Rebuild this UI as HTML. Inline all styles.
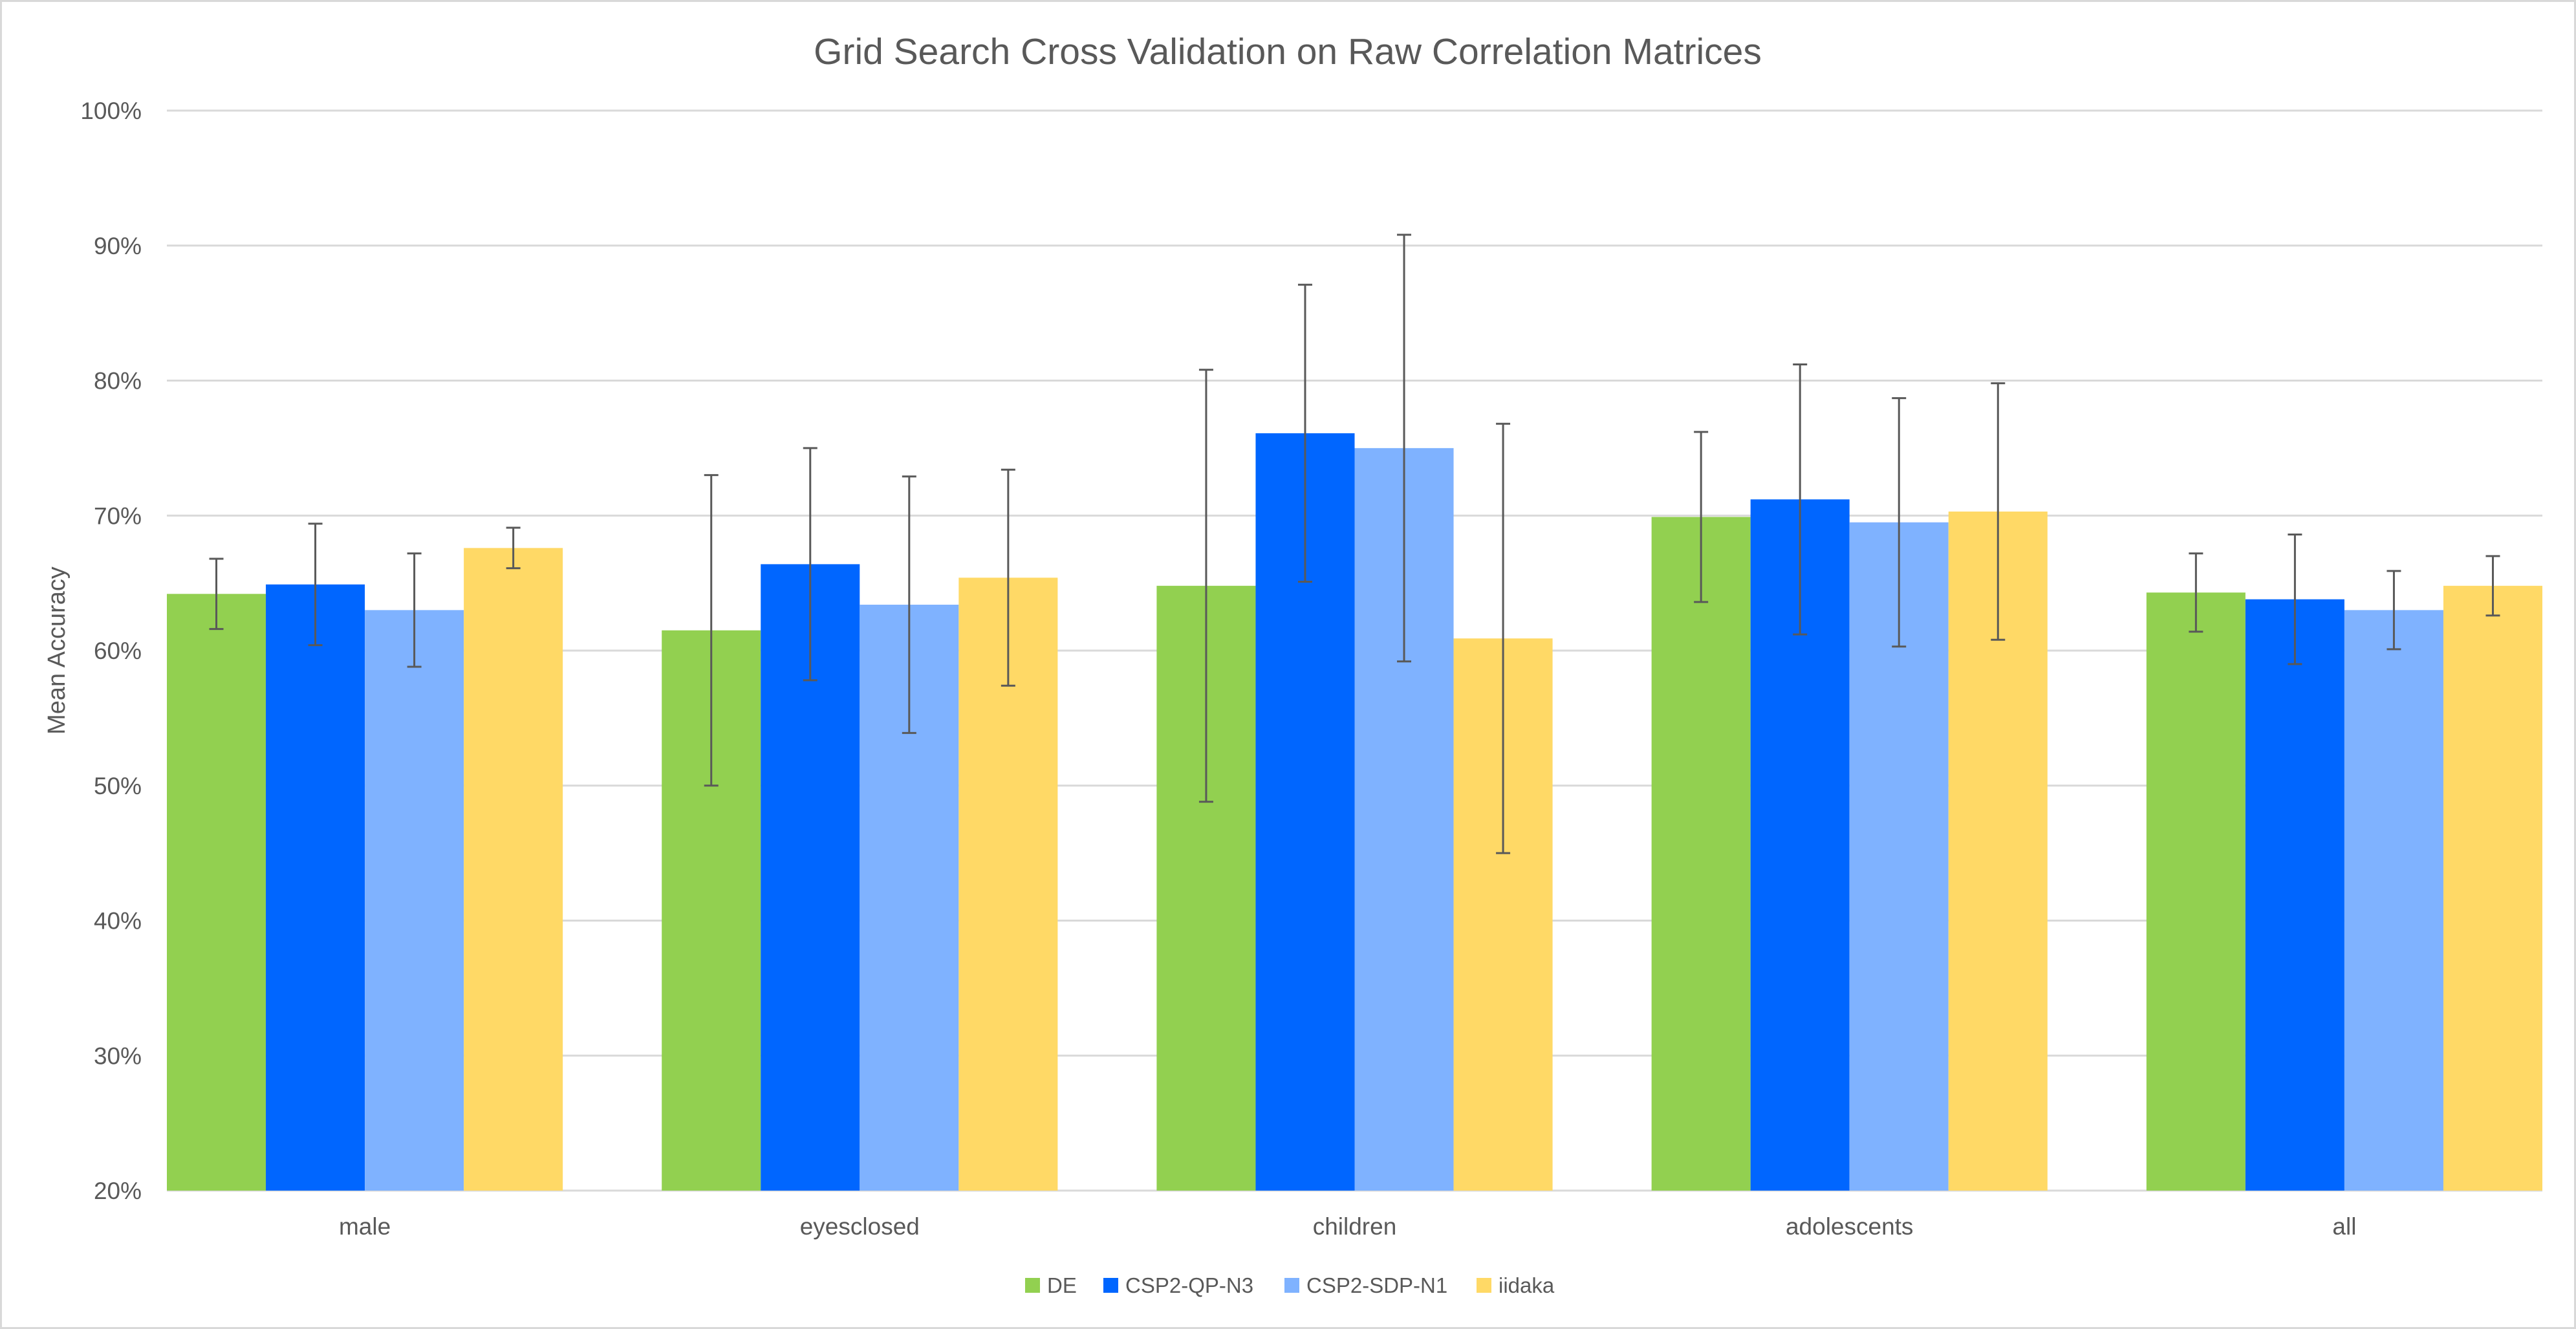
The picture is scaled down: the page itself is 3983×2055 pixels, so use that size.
<!DOCTYPE html>
<html><head><meta charset="utf-8"><style>
html,body{margin:0;padding:0;background:#fff}
svg{display:block;font-family:"Liberation Sans",sans-serif}
</style></head><body>
<svg id="chart" width="3983" height="2055" viewBox="0 0 3983 2055" xmlns="http://www.w3.org/2000/svg">
<rect x="1.5" y="1.5" width="3980" height="2052" fill="#fff" stroke="#d9d9d9" stroke-width="3"/>
<text x="1991" y="99" text-anchor="middle" font-size="57" fill="#595959">Grid Search Cross Validation on Raw Correlation Matrices</text>
<text transform="translate(100,1006) rotate(-90)" text-anchor="middle" font-size="38" fill="#595959">Mean Accuracy</text>
<g id="grid"></g><g id="bars"></g><g id="errs"></g><g id="labels"></g>
<g id="legend"></g>
</svg>
<script>
const categories = ["male","eyesclosed","children","adolescents","all"];
const seriesNames = ["DE","CSP2-QP-N3","CSP2-SDP-N1","iidaka"];
const DE = [64.2, 61.5, 64.8, 69.9, 64.3];
const QP = [64.9, 66.4, 76.1, 71.2, 63.8];
const SDP = [63.0, 63.4, 75.0, 69.5, 63.0];
const IIDAKA = [67.6, 65.4, 60.9, 70.3, 64.8];
const DE_err = [2.6, 11.5, 16.0, 6.3, 2.9];
const QP_err = [4.5, 8.6, 11.0, 10.0, 4.8];
const SDP_err = [4.2, 9.5, 15.8, 9.2, 2.9];
const IIDAKA_err = [1.5, 8.0, 15.9, 9.5, 2.2];
const yTicks = [20,30,40,50,60,70,80,90,100];

const series=[DE,QP,SDP,IIDAKA], errs=[DE_err,QP_err,SDP_err,IIDAKA_err];
const colors=["#92d050","#0066ff","#7fb2ff","#ffd966"];
const NS="http://www.w3.org/2000/svg";
const L=258,R=3931,T=171,B=1841,ymin=20,ymax=100;
const y=v=>B-(v-ymin)/(ymax-ymin)*(B-T);
const barW=(R-L)/(categories.length*4+(categories.length-1));
const x=(i,j)=>L+i*5*barW+j*barW;
function mk(t,a,p){const e=document.createElementNS(NS,t);for(const k in a)e.setAttribute(k,a[k]);p.appendChild(e);return e;}
const grid=document.getElementById('grid'),bars=document.getElementById('bars'),eg=document.getElementById('errs'),lab=document.getElementById('labels'),leg=document.getElementById('legend');
yTicks.forEach(t=>{
  const l=mk('line',{x1:L,x2:R,y1:y(t),y2:y(t),stroke:'#d9d9d9','stroke-width':3},grid);
  
  
  const tx=mk('text',{x:219,y:y(t)+13,'text-anchor':'end','font-size':37,fill:'#595959'},lab);
  tx.textContent=t+'%';
  
  
});
categories.forEach((c,i)=>{
  series.forEach((s,j)=>{
    const r=mk('rect',{x:x(i,j),y:y(s[i]),width:barW,height:B-y(s[i]),fill:colors[j]},bars);
    
    
    const cx=x(i,j)+barW/2,hi=y(s[i]+errs[j][i]),lo=y(s[i]-errs[j][i]);
    const g=mk('g',{stroke:'#595959','stroke-width':3},eg);
    
    
    mk('line',{x1:cx,x2:cx,y1:hi,y2:lo},g);
    mk('line',{x1:cx-11,x2:cx+11,y1:hi,y2:hi},g);
    mk('line',{x1:cx-11,x2:cx+11,y1:lo,y2:lo},g);
  });
  const t=mk('text',{x:x(i,0)+2*barW,y:1909,'text-anchor':'middle','font-size':37,fill:'#595959'},lab);
  t.textContent=c;
  
  
});
const legX=[1585,1706,1986,2283];
seriesNames.forEach((n,j)=>{
  const g=mk('g',{},leg);
  
  
  mk('rect',{x:legX[j],y:1976,width:23,height:23,fill:colors[j]},g);
  const t=mk('text',{x:legX[j]+34,y:1999,'font-size':33,fill:'#595959'},g);
  t.textContent=n;
});
</script>
</body></html>
